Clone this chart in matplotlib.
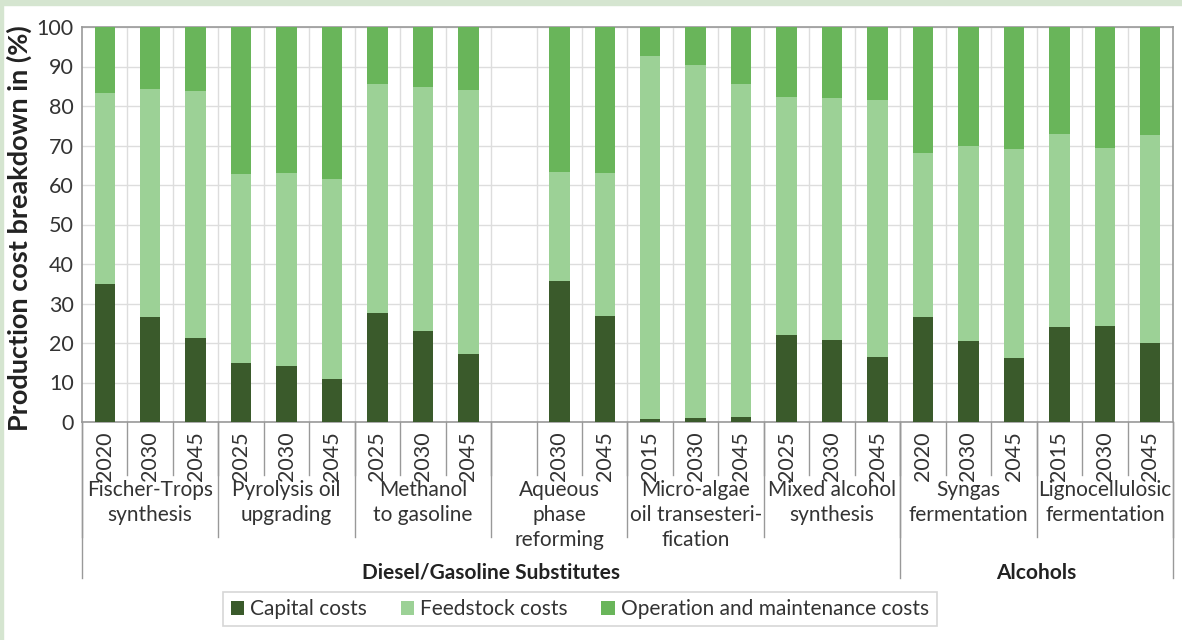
import matplotlib
matplotlib.use("Agg")
from matplotlib import pyplot as plt
from matplotlib.patches import Rectangle
import numpy as np

plt.rcParams['font.family'] = ['Lato', 'DejaVu Sans']

# one entry per slot; None marks the empty slot in the aqueous group
years = ["2020", "2030", "2045", "2025", "2030", "2045", "2025", "2030", "2045",
         None, "2030", "2045", "2015", "2030", "2045", "2025", "2030", "2045",
         "2020", "2030", "2045", "2015", "2030", "2045"]
capital = [35.0, 26.6, 21.3, 15.0, 14.2, 10.9, 27.6, 23.0, 17.2,
           np.nan, 35.7, 26.8, 0.8, 1.0, 1.3, 22.0, 20.7, 16.5,
           26.6, 20.5, 16.2, 24.0, 24.3, 20.0]
# top of the feedstock segment (capital + feedstock)
feed_top = [83.3, 84.3, 83.8, 62.8, 63.0, 61.5, 85.6, 84.8, 84.0,
            np.nan, 63.3, 63.0, 92.7, 90.4, 85.6, 82.3, 82.0, 81.5,
            68.0, 70.0, 69.0, 72.8, 69.4, 72.6]

groups = ["Fischer-Trops\nsynthesis", "Pyrolysis oil\nupgrading", "Methanol\nto gasoline",
          "Aqueous\nphase\nreforming", "Micro-algae\noil transesteri-\nfication",
          "Mixed alcohol\nsynthesis", "Syngas\nfermentation", "Lignocellulosic\nfermentation"]
categories = ["Diesel/Gasoline Substitutes", "Alcohols"]
cat_sizes = [6, 2]  # groups per category

capital = np.array(capital)
feedstock = np.array(feed_top) - capital
om = 100 - np.array(feed_top)

c_cap = "#3a5a2b"
c_feed = "#9cd196"
c_om = "#69b55a"

fig = plt.figure(figsize=(11.82, 6.4), dpi=100)
ax = fig.add_axes([82 / 1182, 1 - 422 / 640, 1091 / 1182, 395 / 640])

x = np.arange(len(years))
w = 0.45
ax.bar(x, capital, w, color=c_cap, label="Capital costs", zorder=3)
ax.bar(x, feedstock, w, bottom=capital, color=c_feed, label="Feedstock costs", zorder=3)
ax.bar(x, om, w, bottom=capital + feedstock, color=c_om,
       label="Operation and maintenance costs", zorder=3)

ax.set_xlim(-0.5, len(years) - 0.5)
ax.set_ylim(0, 100)
ax.set_yticks(range(0, 101, 10))
ax.tick_params(axis='y', length=0, labelsize=15.5, colors="#333333", pad=6)
ax.yaxis.grid(True, color="#dddddd", lw=1, zorder=0)
for b in np.arange(0.5, len(years) - 1, 1):
    ax.axvline(b, color="#dddddd", lw=1, zorder=0)

ax.set_xticks(x)
ax.set_xticklabels([y if y else "" for y in years], rotation=90, fontsize=15.5, color="#333333")
ax.tick_params(axis='x', length=0, pad=7)

for s in ax.spines.values():
    s.set_color("#999999")
    s.set_linewidth(1.2)

ax.set_ylabel("Production cost breakdown in (%)", fontsize=19.5, fontweight="bold",
              color="#222222")
ax.yaxis.set_label_coords(-0.046, 0.49)

trans = ax.get_xaxis_transform()
kw = dict(transform=trans, color="#999999", lw=1, clip_on=False)

# separators under the axis
for b in np.arange(0.5, len(years) - 1, 1):
    ax.plot([b, b], [0, -0.134], **kw)
gbounds = np.arange(0, len(years) + 1, 3) - 0.5
for b in gbounds:
    ax.plot([b, b], [0, -0.291], **kw)
cbounds = [-0.5]
for n in cat_sizes:
    cbounds.append(cbounds[-1] + 3 * n)
for b in cbounds:
    ax.plot([b, b], [0, -0.395], **kw)

for i, g in enumerate(groups):
    cx = (gbounds[i] + gbounds[i + 1]) / 2
    ax.text(cx, -0.148, g, transform=trans, ha="center", va="top", fontsize=15,
            color="#333333", linespacing=1.3)

for i, c in enumerate(categories):
    cx = (cbounds[i] + cbounds[i + 1]) / 2
    ax.text(cx, -0.382, c, transform=trans, ha="center", va="center", fontsize=15,
            fontweight="bold", color="#222222")

leg = fig.legend(loc="center", bbox_to_anchor=(580 / 1182, 1 - 609 / 640), ncol=3,
                 fontsize=15, frameon=True, fancybox=False, handlelength=0.65,
                 handleheight=0.65, handletextpad=0.3, columnspacing=1.6,
                 borderpad=0.35)
leg.get_frame().set_edgecolor("#cccccc")
leg.get_frame().set_linewidth(1.2)
for t in leg.get_texts():
    t.set_color("#333333")

# light green frame strips at the top and left
fig.patches.append(Rectangle((0, 1 - 5 / 640), 1, 5 / 640, transform=fig.transFigure,
                             color="#d5e5d0", zorder=0))
fig.patches.append(Rectangle((0, 0), 2.5 / 1182, 1, transform=fig.transFigure,
                             color="#d5e5d0", zorder=0))

fig.savefig("out.png", dpi=100)
